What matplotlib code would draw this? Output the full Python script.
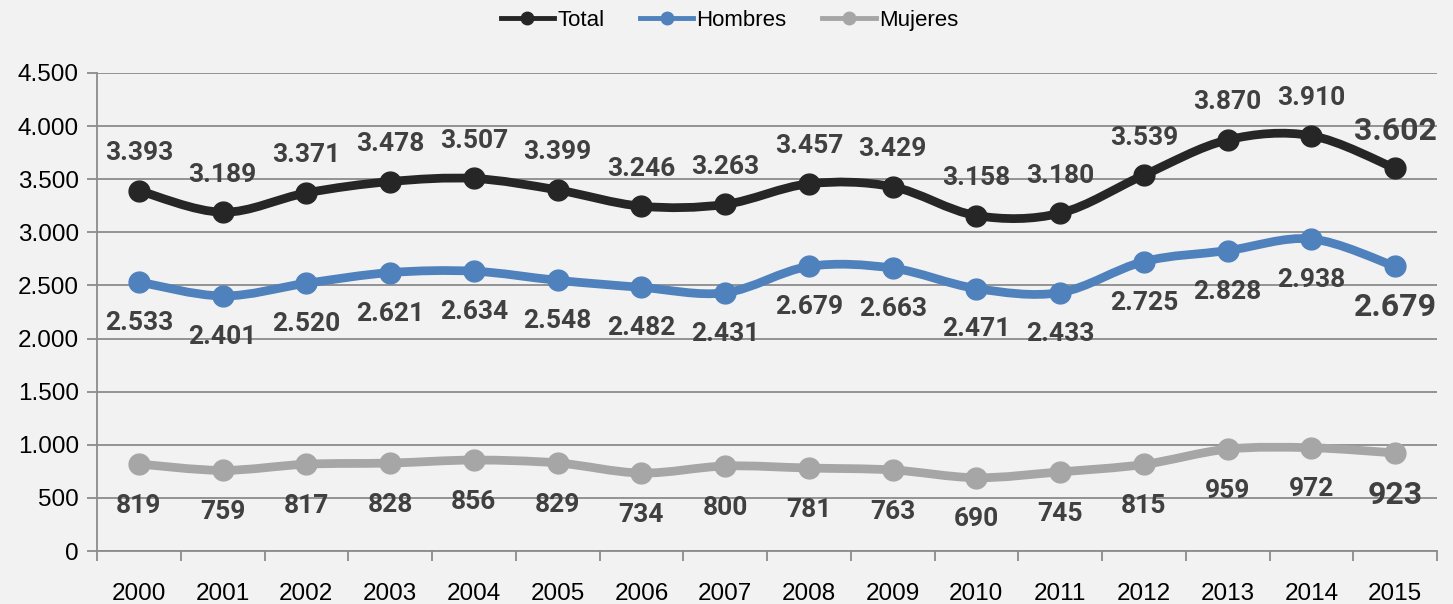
import numpy as np
import matplotlib.pyplot as plt
from matplotlib.path import Path
from matplotlib.patches import PathPatch
from matplotlib.lines import Line2D
from matplotlib.ticker import FuncFormatter

years = [2000, 2001, 2002, 2003, 2004, 2005, 2006, 2007,
         2008, 2009, 2010, 2011, 2012, 2013, 2014, 2015]
total = [3393, 3189, 3371, 3478, 3507, 3399, 3246, 3263,
         3457, 3429, 3158, 3180, 3539, 3870, 3910, 3602]
hombres = [2533, 2401, 2520, 2621, 2634, 2548, 2482, 2431,
           2679, 2663, 2471, 2433, 2725, 2828, 2938, 2679]
mujeres = [819, 759, 817, 828, 856, 829, 734, 800,
           781, 763, 690, 745, 815, 959, 972, 923]

bg = '#f2f2f2'
text_col = '#404040'


def dots(v, pos=None):
    return f'{int(v):,}'.replace(',', '.')


def smooth_path(xs, ys):
    # excel style smoothed line: bezier segments with catmull-rom handles
    pts = np.column_stack([xs, ys]).astype(float)
    n = len(pts)
    verts = [pts[0]]
    codes = [Path.MOVETO]
    for i in range(n - 1):
        p0 = pts[max(i - 1, 0)]
        p1 = pts[i]
        p2 = pts[i + 1]
        p3 = pts[min(i + 2, n - 1)]
        c1 = p1 + (p2 - p0) / 6
        c2 = p2 - (p3 - p1) / 6
        verts += [c1, c2, p2]
        codes += [Path.CURVE4] * 3
    return Path(verts, codes)


fig = plt.figure(figsize=(14.53, 6.04), dpi=100, facecolor=bg)
ax = fig.add_axes([97 / 1453, 53 / 604, 1340 / 1453, 478 / 604])
ax.set_facecolor(bg)

x = np.arange(len(years))
# name, values, colour, label offset in points
series = [
    ('Total', total, '#262626', 27),
    ('Hombres', hombres, '#4f81bd', -29.5),
    ('Mujeres', mujeres, '#a6a6a6', -30),
]

handles = []
for name, vals, col, off in series:
    ax.add_patch(PathPatch(smooth_path(x, vals), fill=False, edgecolor=col,
                           lw=6.3, capstyle='round', joinstyle='round', zorder=3))
    ax.plot(x, vals, 'o', color=col, ms=15, zorder=4)
    for i, v in enumerate(vals):
        last = i == len(vals) - 1
        ax.annotate(dots(v), (x[i], v), xytext=(0, off),
                    textcoords='offset points', ha='center', va='center',
                    fontsize=23 if last else 19, fontweight='bold',
                    color=text_col, family='Roboto', zorder=5)
    handles.append(Line2D([], [], color=col, lw=3.5, marker='o', ms=9))

ax.set_xlim(-0.5, len(years) - 0.5)
ax.set_ylim(0, 4500)
ax.set_yticks(np.arange(0, 4501, 500))
ax.yaxis.set_major_formatter(FuncFormatter(dots))
ax.set_xticks(x)
ax.set_xticklabels([str(y) for y in years])
ax.set_xticks(np.arange(-0.5, len(years), 1), minor=True)
ax.grid(axis='y', color='#8c8c8c', lw=1.3, zorder=0)
ax.set_axisbelow(True)

for s in ['top', 'right']:
    ax.spines[s].set_visible(False)
for s in ['left', 'bottom']:
    ax.spines[s].set_color('#8c8c8c')
    ax.spines[s].set_linewidth(1.3)

ax.tick_params(axis='y', length=7, width=1.3, color='#8c8c8c', labelsize=17.5,
               labelcolor='black', pad=6)
ax.tick_params(axis='x', which='major', length=0, labelsize=17.5,
               labelcolor='black', pad=23)
ax.tick_params(axis='x', which='minor', length=7, width=1.3, color='#8c8c8c')
for lab in ax.get_xticklabels() + ax.get_yticklabels():
    lab.set_family('Liberation Sans')

fig.legend(handles, [s[0] for s in series], loc='center', ncol=3,
           bbox_to_anchor=(0.502, 0.966), frameon=False,
           prop={'family': 'Liberation Sans', 'size': 16},
           handlelength=2.4, handletextpad=0.15, columnspacing=1.6)

fig.savefig('out.png', dpi=100, facecolor=bg)
